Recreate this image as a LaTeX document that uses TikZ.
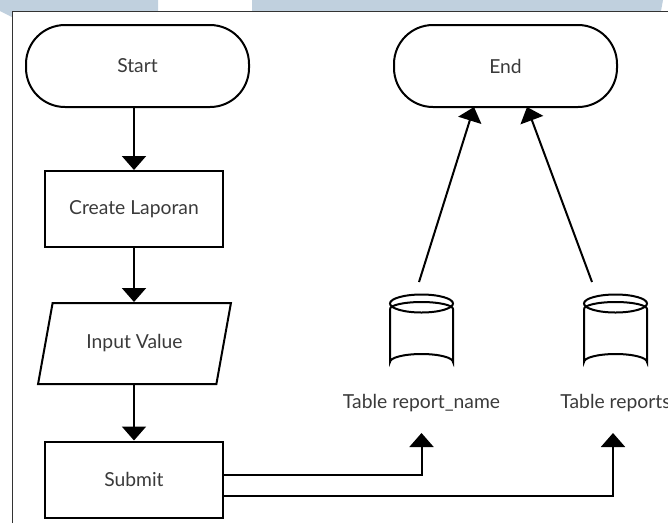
\documentclass[tikz,border=0pt]{standalone}
\usepackage{fontspec}
\setmainfont{Lato}
\usetikzlibrary{arrows.meta,shapes.geometric}
\definecolor{band}{HTML}{C0D0DE}
\definecolor{txt}{HTML}{3A3A3A}
\tikzset{
  lbl/.style={font=\fontsize{19.3}{22}\selectfont, text=txt},
  term/.style={draw=black, line width=2pt, rounded corners=39pt, minimum width=223pt, minimum height=82pt, lbl, inner sep=0pt},
  proc/.style={draw=black, line width=2pt, minimum width=178pt, minimum height=76pt, lbl, inner sep=0pt},
  io/.style={draw=black, line width=2pt, trapezium, trapezium left angle=64, trapezium right angle=116, minimum width=193pt, minimum height=81pt, trapezium stretches=true, lbl, inner sep=0pt},
  conn/.style={line width=2pt, -{Triangle[width=24pt,length=14pt]}},
  frame/.style={draw=black!80, line width=1pt},
  dbline/.style={draw=black, line width=2pt}
}
\begin{document}
\begin{tikzpicture}[x=1pt,y=-1pt]
\useasboundingbox (0,0) rectangle (668,523);
\clip (0,0) rectangle (668,523);
% background bands
\fill[band] (0,0) -- (158,0) -- (158,11) -- (12,11) -- (12,17) -- (0,11) -- cycle;
\fill[band] (252,0) -- (663,0) -- (661,11) -- (252,11) -- cycle;
% frame
\draw[frame] (12.5,523) -- (12.5,11.5) -- (668,11.5);
% nodes
\node[term] (start) at (137.5,66) {Start};
\node[term] (end) at (505.5,66) {End};
\node[proc] (create) at (134,209) {Create Laporan};
\node[io] (input) at (134.5,343.5) {Input Value};
\node[proc] (submit) at (134,479.5) {Submit};
% cylinders
\foreach \cx in {421.5, 615.5}{
  \draw[dbline] (\cx,303.5) ellipse [x radius=31.5, y radius=9];
  \draw[dbline] (\cx-31.5,309) -- (\cx-31.5,362) arc[start angle=180, end angle=360, x radius=31.5, y radius=8] -- (\cx+31.5,309)
     arc[start angle=0, end angle=-180, x radius=31.5, y radius=7];
}
\node[lbl] (lblA) at (421.5,403) {Table report\_name};
\node[lbl] (lblB) at (615.5,403) {Table reports};
% connector end points
\coordinate (dbAin) at (421.5,433);
\coordinate (dbBin) at (613,433);
\coordinate (sA) at (223,475);
\coordinate (sB) at (223,496);
\coordinate (eA) at (474,107);
\coordinate (eB) at (527,107);
\coordinate (bA) at (419,282);
\coordinate (bB) at (592,282);
% connectors
\draw[conn] (start.south -| create.north) -- (create.north);
\draw[conn] (create.south) -- (input.north -| create.south);
\draw[conn] (input.south -| create.south) -- (submit.north);
\draw[conn] (sA) -| (dbAin);
\draw[conn] (sB) -| (dbBin);
\draw[conn] (bA) -- (eA);
\draw[conn] (bB) -- (eB);
\end{tikzpicture}
\end{document}
